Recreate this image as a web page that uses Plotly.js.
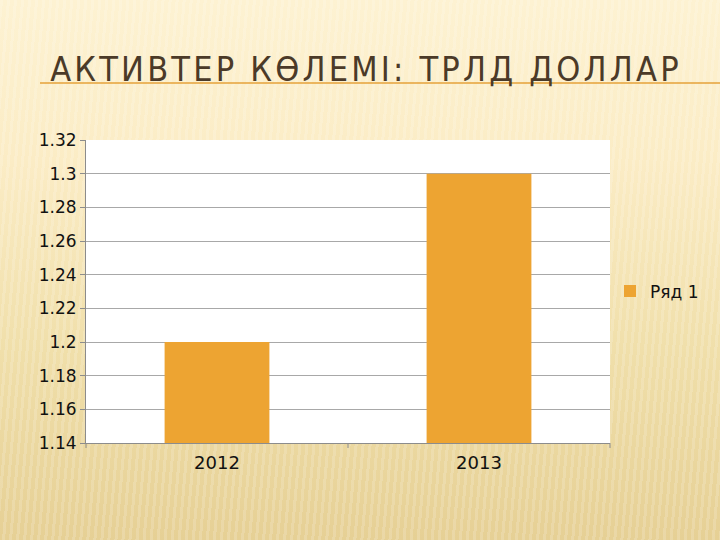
<!DOCTYPE html>
<html>
<head>
<meta charset="utf-8">
<script src="https://cdn.plot.ly/plotly-3.0.1.min.js"></script>
<style>
html,body{margin:0;padding:0;width:720px;height:540px;overflow:hidden;}
#bg{position:absolute;left:0;top:0;width:720px;height:540px;
background:
 repeating-linear-gradient(95deg, rgba(255,255,255,0.16) 0px, rgba(255,255,255,0.16) 3px, rgba(0,0,0,0) 3px, rgba(0,0,0,0) 7px),
 linear-gradient(180deg,#fdf2d2 0%,#fbecc5 30%,#f0dfaa 65%,#e6d095 100%);}
#chart{position:absolute;left:0;top:0;width:720px;height:540px;}
.gtitle{letter-spacing:3.2px;}
</style>
</head>
<body>
<div id="bg"></div>
<div id="chart"></div>
<script>
var titleText = "АКТИВТЕР КӨЛЕМІ: ТРЛД ДОЛЛАР";
var categories = ["2012", "2013"];
var seriesName = "Ряд 1";
var seriesValues = [1.2, 1.3];
var yTicks = [1.14, 1.16, 1.18, 1.2, 1.22, 1.24, 1.26, 1.28, 1.3, 1.32];
var yTickLabels = ["1.14", "1.16", "1.18", "1.2", "1.22", "1.24", "1.26", "1.28", "1.3", "1.32"];

var trace = {
  type: "bar",
  x: categories,
  y: seriesValues,
  base: 0,
  name: seriesName,
  marker: {color: "#eda432"},
  width: 0.4,
  showlegend: true
};

var layout = {
  width: 720, height: 540,
  paper_bgcolor: "rgba(0,0,0,0)",
  plot_bgcolor: "#ffffff",
  margin: {l: 86, r: 110, t: 140, b: 97, pad: 0, autoexpand: false},
  font: {family: "DejaVu Sans", size: 17, color: "#111111"},
  title: {
    text: titleText,
    font: {family: "DejaVu Sans Condensed", size: 34, color: "#4b3a28"},
    xref: "container", yref: "container",
    x: 366/720, xanchor: "center",
    y: 1 - 69/540, yanchor: "middle"
  },
  xaxis: {
    type: "category",
    showline: true, linecolor: "#8c8c8c", linewidth: 1,
    ticks: "", showgrid: false,
    tickfont: {size: 18, color: "#111111"},
    ticklabelstandoff: 3,
    range: [-0.5, 1.5],
    automargin: false
  },
  yaxis: {
    range: [1.14, 1.32],
    tickmode: "array", tickvals: yTicks, ticktext: yTickLabels,
    showgrid: true, gridcolor: "#a8a8a8", gridwidth: 1,
    showline: true, linecolor: "#8c8c8c", linewidth: 1,
    ticks: "outside", ticklen: 5, tickcolor: "#8c8c8c",
    tickfont: {size: 17, color: "#111111"},
    zeroline: false,
    automargin: false
  },
  showlegend: true,
  legend: {
    x: 1.0, xanchor: "left", y: 0.5, yanchor: "middle",
    bgcolor: "rgba(0,0,0,0)",
    itemwidth: 30,
    font: {size: 17, color: "#111111"}
  },
  shapes: [
    {type: "line", xref: "paper", yref: "paper",
     x0: (40-86)/524, x1: (720-86)/524, y0: (443-83)/303, y1: (443-83)/303,
     line: {color: "#e6a23a", width: 1.5}},
    {type: "line", xref: "paper", yref: "paper",
     x0: 0.5, x1: 0.5, y0: 0, y1: -5/303,
     line: {color: "#8c8c8c", width: 1}},
    {type: "line", xref: "paper", yref: "paper",
     x0: 1, x1: 1, y0: 0, y1: -5/303,
     line: {color: "#8c8c8c", width: 1}},
    {type: "line", xref: "paper", yref: "paper",
     x0: 0, x1: 0, y0: 0, y1: -5/303,
     line: {color: "#8c8c8c", width: 1}}
  ]
};

Plotly.newPlot("chart", [trace], layout, {displayModeBar: false, staticPlot: true});
</script>
</body>
</html>
